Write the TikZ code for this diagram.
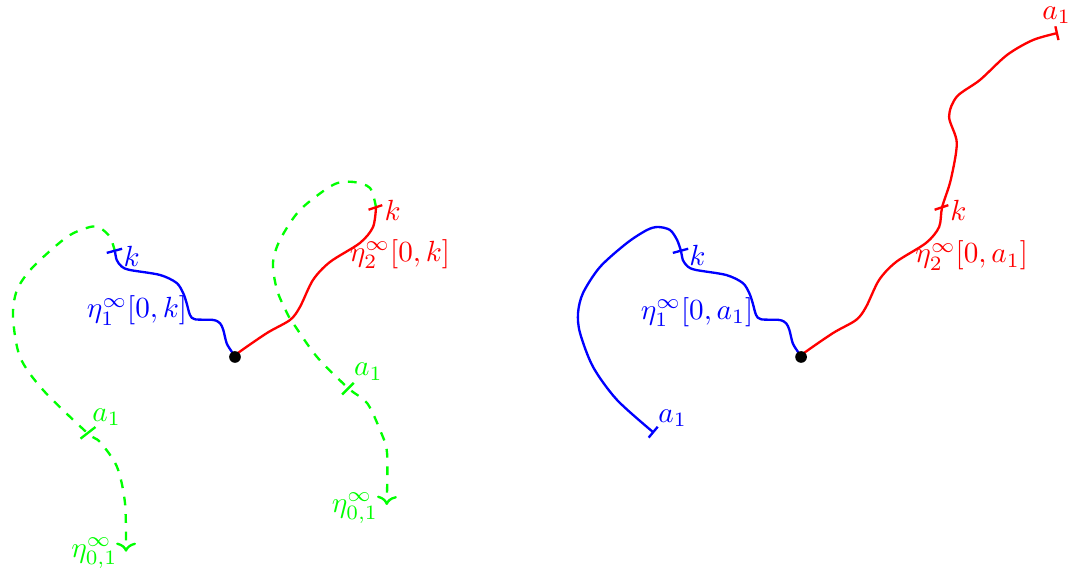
\documentclass[tikz,border=0pt]{standalone}
\usepackage{amsmath}
\usepackage{amssymb}
\usetikzlibrary{arrows.meta}

\begin{document}
\begin{tikzpicture}[bluepath/.style={blue, thick},
        redpath/.style={red, thick},
        greenpath/.style={green, thick, dashed, -{To[length=1.1mm,width=2.4mm]}}]
        \useasboundingbox (0,0) rectangle (12.867,6.855);
    % Start points and the marked points on the curves.
        \coordinate (o1) at (2.831,2.554);
        \coordinate (o2) at (9.651,2.554);
        \coordinate (k1) at (1.386,3.823);
        \coordinate (k2) at (4.530,4.358);
        \coordinate (k3) at (8.206,3.823);
        \coordinate (k4) at (11.350,4.358);
        \coordinate (a1) at (1.050,1.640);
        \coordinate (a2) at (4.197,2.177);
        \coordinate (a3) at (7.880,1.639);
        \coordinate (a4) at (12.747,6.458);
        \coordinate (e1) at (1.518,0.208);
        \coordinate (e2) at (4.659,0.771);
    % Left picture: the dashed curves go first.
        \draw[greenpath] plot[smooth] coordinates {(k1) (1.325,4.000) (1.205,4.108) (1.084,4.120) (0.807,4.000) (0.398,3.639) (0.205,3.361) (0.157,3.036) (0.241,2.554) (0.518,2.157) (a1) (1.205,1.530) (1.410,1.229) (1.506,0.795) (e1)};
        \draw[greenpath] plot[smooth] coordinates {(k2) (4.458,4.590) (4.253,4.663) (4.012,4.627) (3.614,4.325) (3.373,3.964) (3.289,3.687) (3.337,3.361) (3.458,3.084) (3.530,2.964) (3.819,2.554) (a2) (4.422,2.000) (4.578,1.675) (4.663,1.398) (e2)};
        \draw[bluepath] plot[smooth] coordinates {(o1) (2.792,2.618) (2.731,2.719) (2.690,2.880) (2.651,2.960) (2.570,3.000) (2.349,3.008) (2.289,3.060) (2.249,3.201) (2.208,3.321) (2.128,3.446) (1.928,3.542) (1.566,3.602) (1.466,3.643) (1.406,3.723) (k1)};
        \draw[redpath] plot[smooth] coordinates {(o1) (2.867,2.602) (3.217,2.843) (3.494,3.000) (3.614,3.157) (3.771,3.482) (3.976,3.699) (4.337,3.928) (4.494,4.120) (k2)};
        \fill (o1) circle (2pt);
    % Right picture.
        \draw[bluepath, -{Bar[width=1.7mm]}] plot[smooth] coordinates {(o2) (9.612,2.618) (9.551,2.719) (9.510,2.880) (9.471,2.960) (9.390,3.000) (9.169,3.008) (9.109,3.060) (9.069,3.201) (9.028,3.321) (8.948,3.446) (8.748,3.542) (8.386,3.602) (8.286,3.643) (8.226,3.723) (k3) (8.157,3.964) (8.072,4.084) (7.928,4.120) (7.795,4.084) (7.554,3.928) (7.229,3.639) (7.024,3.325) (6.964,3.084) (6.988,2.843) (7.145,2.434) (7.434,2.036) (a3)};
        \draw[redpath, -{Bar[width=1.7mm]}] plot[smooth] coordinates {(o2) (9.687,2.602) (10.037,2.843) (10.314,3.000) (10.434,3.157) (10.591,3.482) (10.796,3.699) (11.157,3.928) (11.314,4.120) (k4) (11.454,4.687) (11.527,5.133) (11.434,5.449) (11.527,5.690) (11.807,5.892) (12.133,6.193) (12.446,6.373) (a4)};
        \fill (o2) circle (2pt);
    % Small cuts across the curves.
        \draw[bluepath] ([shift={(-0.1,-0.015)}]k1) -- ([shift={(0.085,0.035)}]k1);
        \draw[redpath] ([shift={(-0.09,-0.03)}]k2) -- ([shift={(0.075,0.025)}]k2);
        \draw[bluepath] ([shift={(-0.1,-0.015)}]k3) -- ([shift={(0.085,0.035)}]k3);
        \draw[redpath] ([shift={(-0.09,-0.03)}]k4) -- ([shift={(0.075,0.025)}]k4);
        \draw[green, thick] ([shift={(-0.08,-0.07)}]a1) -- ([shift={(0.1,0.07)}]a1);
        \draw[green, thick] ([shift={(-0.075,-0.075)}]a2) -- ([shift={(0.065,0.065)}]a2);
    % Below nodes are the labels.
        \node[blue] (lk1) at (1.586,3.771) {$k$};
        \node[blue] (leta1) at (1.651,3.112) {$\eta^{\infty}_{1}[0,k]$};
        \node[red] (lk2) at (4.731,4.325) {$k$};
        \node[red] (leta2) at (4.819,3.795) {$\eta^{\infty}_{2}[0,k]$};
        \node[green] (la1) at (1.285,1.827) {$a_1$};
        \node[green] (la2) at (4.438,2.377) {$a_1$};
        \node[green] (le1) at (1.137,0.193) {$\eta^{\infty}_{0,1}$};
        \node[green] (le2) at (4.277,0.735) {$\eta^{\infty}_{0,1}$};
        \node[blue] (lk3) at (8.402,3.783) {$k$};
        \node[blue] (leta3) at (8.398,3.096) {$\eta^{\infty}_{1}[0,a_1]$};
        \node[blue] (la3) at (8.104,1.815) {$a_1$};
        \node[red] (lk4) at (11.546,4.317) {$k$};
        \node[red] (leta4) at (11.707,3.775) {$\eta^{\infty}_{2}[0,a_1]$};
        \node[red] (la4) at (12.731,6.675) {$a_1$};
    \end{tikzpicture}
\end{document}
